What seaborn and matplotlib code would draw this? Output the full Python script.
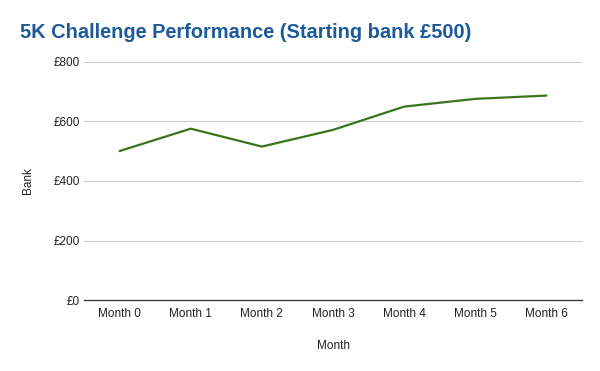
import matplotlib
matplotlib.use("Agg")
import matplotlib.pyplot as plt
import seaborn as sns
import pandas as pd

months = ["Month 0", "Month 1", "Month 2", "Month 3", "Month 4", "Month 5", "Month 6"]
bank = [500, 575, 515, 571, 649, 675, 686]
yticks = [0, 200, 400, 600, 800]
ytick_labels = ["£0", "£200", "£400", "£600", "£800"]

sns.set_theme(style="white")
plt.rcParams['font.family'] = ['Liberation Sans', 'DejaVu Sans']

df = pd.DataFrame({"Month": months, "Bank": bank})
df["x"] = range(len(months))

fig = plt.figure(figsize=(6, 3.71), dpi=100)
ax = fig.add_axes([0.14, 0.191, 0.83, 0.643])
sns.lineplot(data=df, x="x", y="Bank", ax=ax, color="#38761d", linewidth=1.6)

ax.set_xlim(-0.5, len(months) - 0.5)
ax.set_ylim(0, 800)
ax.set_xticks(range(len(months)))
ax.set_xticklabels(months, fontsize=8.5, color="#222222")
ax.set_yticks(yticks)
ax.set_yticklabels(ytick_labels, fontsize=8.5, color="#222222")
ax.tick_params(axis="x", length=0, pad=6)
ax.tick_params(axis="y", length=0, pad=3)
ax.grid(axis="y", color="#cccccc", linewidth=0.8)
ax.set_axisbelow(True)
for s in ["top", "right", "left"]:
    ax.spines[s].set_visible(False)
ax.spines["bottom"].set_color("#333333")
ax.spines["bottom"].set_linewidth(0.9)
ax.set_xlabel("Month", fontsize=8.5, color="#222222", labelpad=14)
ax.set_ylabel("Bank", fontsize=8.5, color="#222222", labelpad=14)

fig.text(0.033, 0.912, "5K Challenge Performance (Starting bank £500)", fontsize=14.4,
         fontweight="bold", color="#1c5a9a", ha="left", va="center")

fig.savefig("out.png", dpi=100)
